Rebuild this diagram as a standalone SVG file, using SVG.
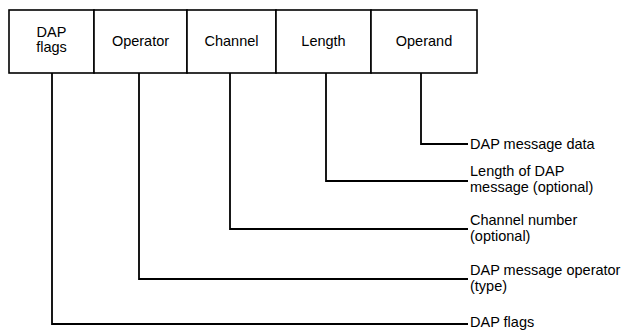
<svg xmlns="http://www.w3.org/2000/svg" width="625" height="332" viewBox="0 0 625 332">
<style>
.box{fill:#fff;stroke:#000;stroke-width:1.6}
.ln{fill:none;stroke:#000;stroke-width:1.8}
text{font-family:"Liberation Sans",Arial,sans-serif;font-size:14.5px;fill:#000}
.c{text-anchor:middle}
</style>
<rect width="625" height="332" fill="#fff"/>
<g id="node-dap-flags"><rect class="box" x="9" y="10" width="85" height="63"/><text class="c" x="51.5" y="37">DAP</text><text class="c" x="51.5" y="52">flags</text></g>
<g id="node-operator"><rect class="box" x="94" y="10" width="93" height="63"/><text class="c" x="140.5" y="46">Operator</text></g>
<g id="node-channel"><rect class="box" x="187" y="10" width="89" height="63"/><text class="c" x="231.5" y="46">Channel</text></g>
<g id="node-length"><rect class="box" x="276" y="10" width="95" height="63"/><text class="c" x="323.5" y="46">Length</text></g>
<g id="node-operand"><rect class="box" x="371" y="10" width="106" height="63"/><text class="c" x="424" y="46">Operand</text></g>
<g id="connectors">
<polyline class="ln" points="421,73 421,144 468,144"/>
<polyline class="ln" points="326,73 326,181 468,181"/>
<polyline class="ln" points="230,73 230,229 468,229"/>
<polyline class="ln" points="139,73 139,279 468,279"/>
<polyline class="ln" points="52,73 52,324 468,324"/>
</g>
<g id="labels">
<text x="470" y="149">DAP message data</text>
<text x="470" y="176">Length of DAP</text>
<text x="470" y="192">message (optional)</text>
<text x="470" y="225">Channel number</text>
<text x="470" y="241">(optional)</text>
<text x="470" y="275">DAP message operator</text>
<text x="470" y="291">(type)</text>
<text x="470" y="327">DAP flags</text>
</g>
</svg>
